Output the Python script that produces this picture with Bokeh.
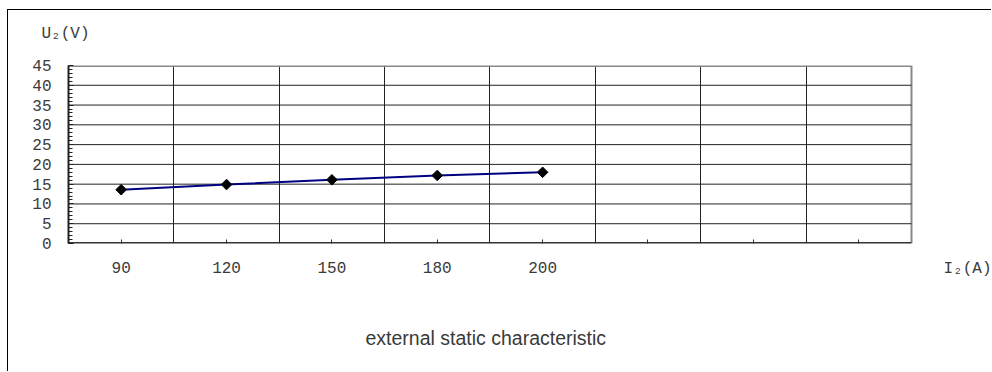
from bokeh.plotting import figure
from bokeh.models import Range1d, FixedTicker, SingleIntervalTicker, Title, Grid
from bokeh.embed import file_html
from bokeh.resources import INLINE

# ---- data ----
categories = ["90", "120", "150", "180", "200", " ", "  ", "   "]
voltages = [13.6, 14.9, 16.1, 17.2, 18.0]
y_ticks = [0, 5, 10, 15, 20, 25, 30, 35, 40, 45]
y_label = "U\u2082(V)"
x_label = "I\u2082(A)"
caption = "external static characteristic"

n_cat = len(categories)
x_idx = list(range(len(voltages)))
y_min, y_max = y_ticks[0], y_ticks[-1]
y_step = y_ticks[1] - y_ticks[0]
cat_lo, cat_hi = -0.5, n_cat - 0.5
x_end = cat_hi + 0.77          # extra room right of the grid for the I2(A) text
x_label_pos = cat_hi + 0.536   # centre of the I2(A) text

p = figure(width=984, height=362, output_backend="svg", toolbar_location=None,
           x_range=Range1d(cat_lo, x_end), y_range=Range1d(y_min, y_max),
           min_border_left=60, min_border_right=0, min_border_top=55,
           min_border_bottom=129)
p.styles = {"margin-left": "7px", "margin-top": "9px",
            "border-left": "1px solid black", "border-top": "1px solid black"}
p.background_fill_color = "white"
p.border_fill_color = "white"
p.outline_line_color = None

mono = "Liberation Mono"
txt = "#3a3a3a"

# x axis (labels at category centres + the I2(A) label at the right)
xa = p.xaxis[0]
labels = {i: c for i, c in enumerate(categories)}
labels[x_label_pos] = x_label
xa.ticker = FixedTicker(ticks=list(range(n_cat)) + [x_label_pos],
                        minor_ticks=list(range(n_cat)))
xa.major_label_overrides = labels
xa.major_tick_line_color = None
xa.minor_tick_in = 4
xa.minor_tick_out = 0
xa.minor_tick_line_color = "#333333"
xa.axis_line_color = None
xa.major_label_text_font = mono
xa.major_label_text_font_size = "16px"
xa.major_label_text_color = txt
xa.major_label_standoff = 10

# y axis
ya = p.yaxis[0]
ya.ticker = SingleIntervalTicker(interval=y_step, num_minor_ticks=5)
ya.major_tick_in = 5
ya.major_tick_out = 0
ya.minor_tick_in = 4
ya.minor_tick_out = 0
ya.axis_line_color = "#222222"
ya.axis_line_width = 2
ya.major_tick_line_color = "#222222"
ya.minor_tick_line_color = "#222222"
ya.major_label_text_font = mono
ya.major_label_text_font_size = "16px"
ya.major_label_text_color = txt
ya.major_label_standoff = 17

# vertical grid lines between categories + grey right border of the plot box
p.xgrid.ticker = FixedTicker(ticks=[i + 0.5 for i in range(n_cat - 1)])
p.xgrid.grid_line_color = "#222222"
p.xgrid.grid_line_width = 1
p.ygrid.grid_line_color = None
p.add_layout(Grid(dimension=0, ticker=FixedTicker(ticks=[cat_hi]),
                  grid_line_color="#888888", grid_line_width=2))

# horizontal grid lines limited to the plot box
inner = y_ticks[1:-1]
p.segment(x0=[cat_lo] * len(inner), x1=[cat_hi] * len(inner), y0=inner, y1=inner,
          line_color="#222222", line_width=1)
p.segment(x0=[cat_lo], x1=[cat_hi], y0=[y_max], y1=[y_max],
          line_color="#888888", line_width=3)
p.segment(x0=[cat_lo], x1=[cat_hi], y0=[y_min], y1=[y_min],
          line_color="#333333", line_width=3)

# series
p.line(x_idx, voltages, line_color="#000080", line_width=2)
p.scatter(x_idx, voltages, marker="square", angle=0.785398, size=7.5,
          color="black")

# texts (blank titles act as spacers)
p.add_layout(Title(text=" ", text_font_size="8px", standoff=10), "above")
p.add_layout(Title(text=y_label, align="left", offset=-27, standoff=0,
                   vertical_align="top",
                   text_font=mono, text_font_size="16px", text_color=txt,
                   text_font_style="normal"), "above")
p.add_layout(Title(text=" ", text_font_size="8px", standoff=35), "below")
p.add_layout(Title(text=caption, align="left", offset=297, standoff=0,
                   vertical_align="top",
                   text_font="Liberation Sans", text_font_size="19.5px",
                   text_color=txt, text_font_style="normal"), "below")

open("out.html", "w").write(file_html(p, INLINE))
